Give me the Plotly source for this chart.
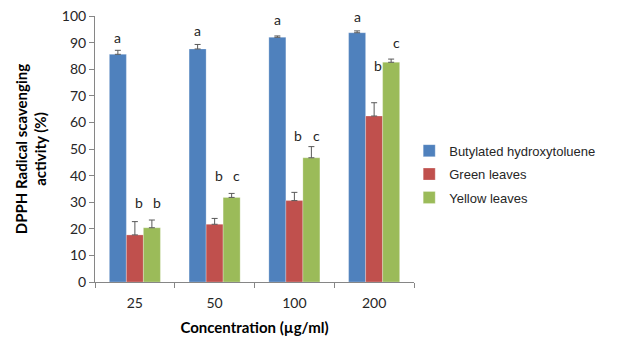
import plotly.graph_objects as go

categories = ["25", "50", "100", "200"]
series_names = ["Butylated hydroxytoluene", "Green leaves", "Yellow leaves"]
bht_values = [85.6, 87.6, 92.0, 93.7]
bht_err = [1.5, 1.7, 0.5, 0.7]
green_values = [17.7, 21.7, 30.6, 62.4]
green_err = [5.0, 2.2, 3.1, 5.0]
yellow_values = [20.4, 31.8, 46.7, 82.6]
yellow_err = [2.9, 1.5, 4.2, 1.2]
bht_letters = ["a", "a", "a", "a"]
green_letters = ["b", "b", "b", "b"]
yellow_letters = ["b", "c", "c", "c"]

colors = ["#4F81BD", "#C0504D", "#9BBB59"]
values = [bht_values, green_values, yellow_values]
errs = [bht_err, green_err, yellow_err]
letters = [bht_letters, green_letters, yellow_letters]

fig = go.Figure()
for i, (name, v, e, c) in enumerate(zip(series_names, values, errs, colors)):
    fig.add_trace(go.Bar(
        x=categories, y=v, name=name, legendgroup=name,
        marker=dict(color=c, line=dict(color="rgba(255,255,255,0.5)", width=0.5)),
        error_y=dict(type="data", symmetric=False, array=e, arrayminus=[0] * len(e),
                     color="#595959", thickness=1, width=3),
    ))

# letter label heights (layout of significance labels)
letter_y = [
    [92, 94.5, 98.8, 100],
    [30, 40, 54.9, 81.3],
    [30, 40, 54.9, 90],
]
xshifts = [-17, 4, 22]
for s in range(3):
    for j in range(len(categories)):
        fig.add_annotation(x=j, y=letter_y[s][j], text=letters[s][j], showarrow=False,
                           xshift=xshifts[s], yanchor="middle",
                           font=dict(family="Lato", size=14, color="#262626"))

fig.update_layout(
    width=622, height=339,
    margin=dict(l=95, r=208, t=16, b=57),
    paper_bgcolor="white", plot_bgcolor="white",
    barmode="group", bargap=0.36, bargroupgap=0,
    showlegend=True,
    legend=dict(x=0.985, y=0.55, xanchor="left", yanchor="top",
                font=dict(family="Liberation Sans", size=13, color="#262626"),
                tracegroupgap=3.5, traceorder="grouped"),
    font=dict(family="Lato", color="#262626"),
)
fig.update_xaxes(
    type="category", categoryorder="array", categoryarray=categories,
    range=[-0.5, len(categories) - 0.5], automargin=False,
    tickson="boundaries", ticks="outside", ticklen=5, ticklabelstandoff=8,
    tickcolor="#868686", showline=True, linecolor="#868686", linewidth=1,
    tickfont=dict(family="Lato", size=14, color="#262626"),
    title=dict(text="<b>Concentration (µg/ml)</b>", font=dict(family="Lato", size=15, color="#000000"), standoff=12),
    showgrid=False,
)
fig.update_yaxes(
    range=[0, 100], dtick=10, ticks="outside", ticklen=5, tickcolor="#868686",
    showline=True, linecolor="#868686", linewidth=1, showgrid=False, zeroline=False,
    automargin=False,
    tickfont=dict(family="Lato", size=14, color="#262626"),
    title=dict(text="<b>DPPH Radical scavenging<br>activity (%)</b>",
               font=dict(family="Lato", size=15, color="#000000"), standoff=11),
)

fig.write_html("out.html", config={"displayModeBar": False},
               post_script="document.body.style.margin='0';")
